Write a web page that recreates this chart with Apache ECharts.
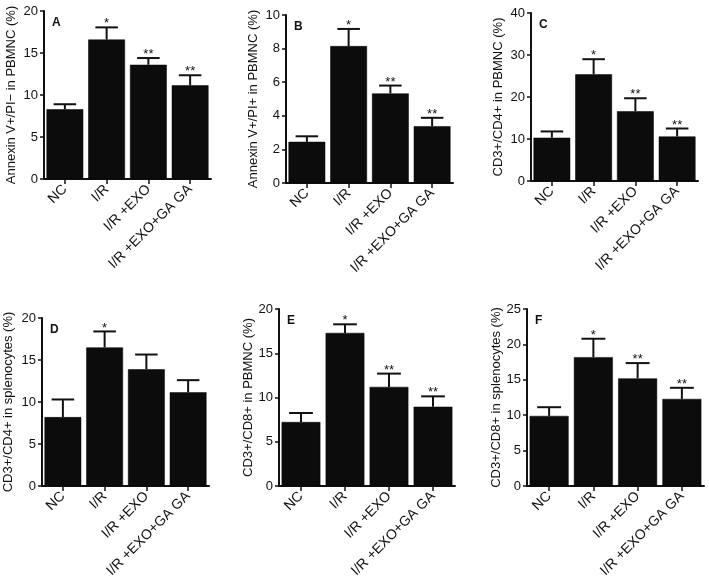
<!DOCTYPE html>
<html>
<head>
<meta charset="utf-8">
<script src="https://cdn.jsdelivr.net/npm/echarts@6/dist/echarts.min.js"></script>
<style>
html,body{margin:0;padding:0;background:#fff;}
#chart{width:709px;height:585px;}
</style>
</head>
<body>
<div id="chart"></div>
<script>
// ---- data ----
const categories = ['NC', 'I/R', 'I/R +EXO', 'I/R +EXO+GA GA'];
const panelLetters = ['A', 'B', 'C', 'D', 'E', 'F'];
const yAxisNames = [
  'Annexin V+/PI\u2212 in PBMNC (%)',
  'Annexin V+/PI+ in PBMNC (%)',
  'CD3+/CD4+ in PBMNC (%)',
  'CD3+/CD4+ in splenocytes (%)',
  'CD3+/CD8+ in PBMNC (%)',
  'CD3+/CD8+ in splenocytes (%)'
];
const yMax = [20, 10, 40, 20, 20, 25];
const yInterval = [5, 2, 10, 5, 5, 5];

const meanA = [8.3, 16.6, 13.6, 11.15];
const errA  = [0.6, 1.45, 0.8, 1.2];
const sigA  = ['', '*', '**', '**'];

const meanB = [2.45, 8.15, 5.33, 3.38];
const errB  = [0.33, 1.02, 0.47, 0.5];
const sigB  = ['', '*', '**', '**'];

const meanC = [10.3, 25.4, 16.6, 10.6];
const errC  = [1.5, 3.6, 3.1, 1.9];
const sigC  = ['', '*', '**', '**'];

const meanD = [8.2, 16.5, 13.9, 11.15];
const errD  = [2.1, 1.9, 1.75, 1.45];
const sigD  = ['', '*', '', ''];

const meanE = [7.23, 17.3, 11.2, 8.96];
const errE  = [1.02, 0.97, 1.5, 1.17];
const sigE  = ['', '*', '**', '**'];

const meanF = [9.9, 18.2, 15.2, 12.3];
const errF  = [1.23, 2.6, 2.16, 1.57];
const sigF  = ['', '*', '**', '**'];

const means = [meanA, meanB, meanC, meanD, meanE, meanF];
const errs  = [errA, errB, errC, errD, errE, errF];
const sigs  = [sigA, sigB, sigC, sigD, sigE, sigF];

// ---- layout ----
const grids = [
  {left: 44,  top: 11,  width: 167, height: 168},
  {left: 286, top: 15,  width: 167, height: 168},
  {left: 531, top: 13,  width: 167, height: 168},
  {left: 42,  top: 318, width: 167, height: 168},
  {left: 279, top: 309, width: 176, height: 177},
  {left: 527, top: 309, width: 177, height: 177}
];
const nameGaps = [26, 26, 26, 27, 22, 22];
const FONT = '"Liberation Sans", Arial, Helvetica, sans-serif';
const TXT = '#111';

const option = {
  backgroundColor: '#fff',
  animation: false,
  grid: [], xAxis: [], yAxis: [], series: [], title: []
};

grids.forEach(function (g, k) {
  option.grid.push(Object.assign({containLabel: false, outerBoundsMode: 'none'}, g));
  option.xAxis.push({
    type: 'category', gridIndex: k, data: categories,
    axisLine: {lineStyle: {color: '#111', width: 2}},
    axisTick: {show: true, alignWithLabel: true, length: 5, lineStyle: {color: '#111', width: 1.5}},
    axisLabel: {rotate: 45, margin: 8, fontSize: 14, color: TXT, fontFamily: FONT, interval: 0}
  });
  option.yAxis.push({
    type: 'value', gridIndex: k, min: 0, max: yMax[k], interval: yInterval[k],
    name: yAxisNames[k], nameLocation: 'middle', nameGap: nameGaps[k], nameRotate: 90,
    nameTextStyle: {fontSize: 13, color: TXT, fontFamily: FONT},
    axisLine: {show: true, lineStyle: {color: '#111', width: 2}},
    axisTick: {show: true, length: 4, lineStyle: {color: '#111', width: 1.5}},
    axisLabel: {margin: 6, fontSize: 13, color: TXT, fontFamily: FONT},
    splitLine: {show: false}
  });
  option.series.push({
    type: 'bar', xAxisIndex: k, yAxisIndex: k,
    data: means[k], barCategoryGap: '12%',
    itemStyle: {color: '#0c0c0c', borderColor: '#000', borderWidth: 0.5}
  });
  const sigArr = sigs[k];
  option.series.push({
    type: 'custom', xAxisIndex: k, yAxisIndex: k,
    data: means[k].map(function (m, i) { return [i, m, errs[k][i]]; }),
    encode: {x: 0, y: 1},
    z: 5,
    renderItem: function (params, api) {
      const i = api.value(0), m = api.value(1), e = api.value(2);
      const base = api.coord([i, m]);
      const top = api.coord([i, m + e]);
      const half = api.size([1, 0])[0] * 0.27;
      const children = [
        {type: 'line', shape: {x1: base[0], y1: base[1], x2: top[0], y2: top[1]},
         style: {stroke: '#111', lineWidth: 2}},
        {type: 'line', shape: {x1: top[0] - half, y1: top[1], x2: top[0] + half, y2: top[1]},
         style: {stroke: '#111', lineWidth: 2}}
      ];
      const s = sigArr[params.dataIndex];
      if (s) {
        children.push({type: 'text', style: {text: s, x: top[0], y: top[1] - 10,
          align: 'center', verticalAlign: 'top', fontSize: 13, fill: TXT, fontFamily: FONT}});
      }
      return {type: 'group', children: children};
    }
  });
  option.title.push({
    text: panelLetters[k], left: g.left + 8, top: g.top + 6, padding: 0,
    textStyle: {fontSize: 12, fontWeight: 'bold', color: '#111', fontFamily: FONT}
  });
});

const chart = echarts.init(document.getElementById('chart'), null, {renderer: 'canvas'});
chart.setOption(option);
</script>
</body>
</html>
